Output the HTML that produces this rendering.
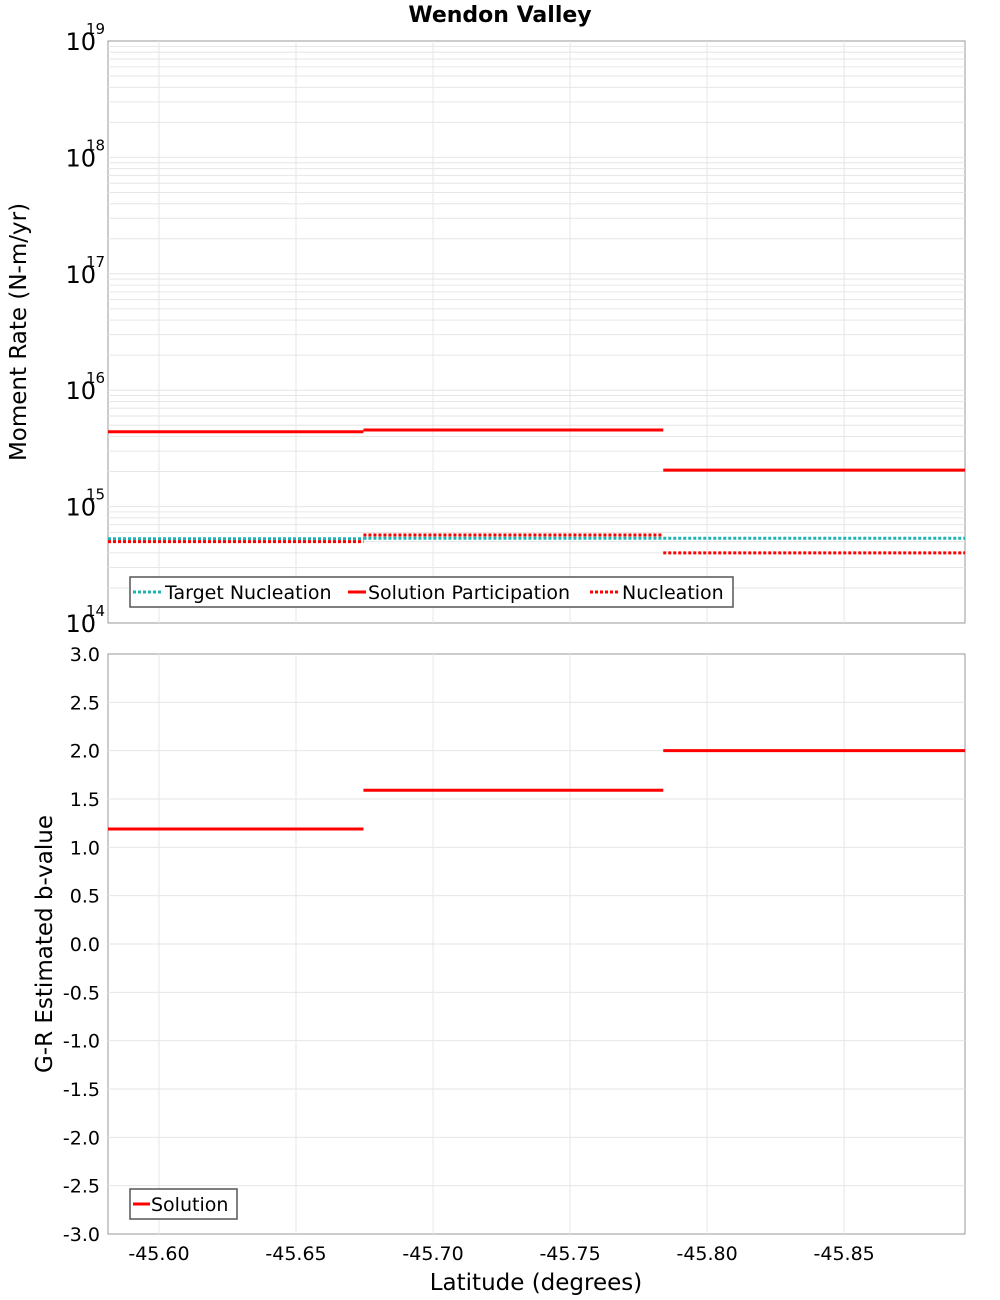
<!DOCTYPE html>
<html><head><meta charset="utf-8"><style>body{margin:0;background:#fff}svg{display:block;font-family:"DejaVu Sans","Liberation Sans",sans-serif}</style></head>
<body>
<svg id="c" width="1000" height="1300"></svg>
<script>
const segEdges=[-45.5814,-45.6746,-45.784,-45.8941];
const solutionParticipation=[4.4e15,4.55e15,2.06e15];
const targetNucleation=[5.3e14,5.35e14,5.35e14];
const nucleation=[5.0e14,5.7e14,4.0e14];
const bValues=[1.19,1.59,2.0];
const xTicks=[-45.60,-45.65,-45.70,-45.75,-45.80,-45.85];
const bTicks=[3.0,2.5,2.0,1.5,1.0,0.5,0.0,-0.5,-1.0,-1.5,-2.0,-2.5,-3.0];
const logTicks=[19,18,17,16,15,14];

const svg=document.getElementById('c');const NS='http://www.w3.org/2000/svg';
function el(t,a,p){const e=document.createElementNS(NS,t);for(const k in a)e.setAttribute(k,a[k]);(p||svg).appendChild(e);return e;}
const L=108,R=965,T1=41,B1=623,T2=654,B2=1234;
const X=v=>L+(v-segEdges[0])/(segEdges[3]-segEdges[0])*(R-L);
const Y1=v=>B1-(Math.log10(v)-14)/5*(B1-T1);
const Y2=v=>B2-(v+3)/6*(B2-T2);
const grid='#e6e6e6';
// panels
[[T1,B1],[T2,B2]].forEach(([t,b],i)=>{const r=el('rect',{x:L,y:t,width:R-L,height:b-t,fill:'#fff',stroke:'#999'});});
// grids
xTicks.forEach(v=>{[[T1,B1],[T2,B2]].forEach(([t,b])=>el('line',{x1:X(v),x2:X(v),y1:t,y2:b,stroke:grid}));});
for(let d=14;d<19;d++)for(let m=1;m<10;m++){const y=Y1(m*Math.pow(10,d));if(y>T1&&y<B1)el('line',{x1:L,x2:R,y1:y,y2:y,stroke:grid});}
bTicks.forEach(v=>{const y=Y2(v);if(y>T2&&y<B2)el('line',{x1:L,x2:R,y1:y,y2:y,stroke:grid});});
// title
let t=el('text',{x:500,y:22,'text-anchor':'middle','font-size':22,'font-weight':'bold'});t.textContent='Wendon Valley';
// log ticks
logTicks.forEach(d=>{const y=Y1(Math.pow(10,d));const g=el('text',{x:96,y:y+9,'text-anchor':'end','font-size':24});g.textContent='10';const s=el('text',{x:86,y:y-7,'font-size':15});s.textContent=String(d);});
bTicks.forEach(v=>{const g=el('text',{x:100,y:Y2(v)+7,'text-anchor':'end','font-size':19});g.textContent=v.toFixed(1);});
xTicks.forEach(v=>{const g=el('text',{x:X(v),y:1260,'text-anchor':'middle','font-size':19});g.textContent=v.toFixed(2);});
t=el('text',{x:536,y:1290,'text-anchor':'middle','font-size':23});t.textContent='Latitude (degrees)';
t=el('text',{x:0,y:0,'text-anchor':'middle','font-size':23,transform:'translate(26,332) rotate(-90)'});t.textContent='Moment Rate (N-m/yr)';
t=el('text',{x:0,y:0,'text-anchor':'middle','font-size':23,transform:'translate(52,944) rotate(-90)'});t.textContent='G-R Estimated b-value';
// series
function steps(vals,Y,st,name){vals.forEach((v,i)=>{const ln=el('line',Object.assign({x1:X(segEdges[i]),x2:X(segEdges[i+1]),y1:Y(v),y2:Y(v)},st));});}
steps(targetNucleation,Y1,{stroke:'#1fb3b3','stroke-width':3,'stroke-dasharray':'3,2'},'target-nucleation');
steps(nucleation,Y1,{stroke:'#ff0000','stroke-width':3,'stroke-dasharray':'3,2'},'nucleation');
steps(solutionParticipation,Y1,{stroke:'#ff0000','stroke-width':3},'solution-participation');
steps(bValues,Y2,{stroke:'#ff0000','stroke-width':3},'solution-b-value');
// legends
let lg=el('g',{});
el('rect',{x:130,y:577,width:603,height:30,fill:'#fff',stroke:'#555','stroke-width':1.5},lg);
[[133,'#1fb3b3','3,2','Target Nucleation',165],[348,'#ff0000','','Solution Participation',368],[590,'#ff0000','3,2','Nucleation',622]].forEach(([x,c,d,txt,tx])=>{const a={x1:x,x2:x+(txt==='Solution Participation'?18:28),y1:592,y2:592,stroke:c,'stroke-width':3};if(d)a['stroke-dasharray']=d;el('line',a,lg);const q=el('text',{x:tx,y:599,'font-size':19},lg);q.textContent=txt;});
lg=el('g',{});
el('rect',{x:130,y:1189,width:107,height:30,fill:'#fff',stroke:'#555','stroke-width':1.5},lg);
el('line',{x1:133,x2:150,y1:1204,y2:1204,stroke:'#ff0000','stroke-width':3},lg);
t=el('text',{x:151,y:1211,'font-size':19},lg);t.textContent='Solution';
</script>
</body></html>
